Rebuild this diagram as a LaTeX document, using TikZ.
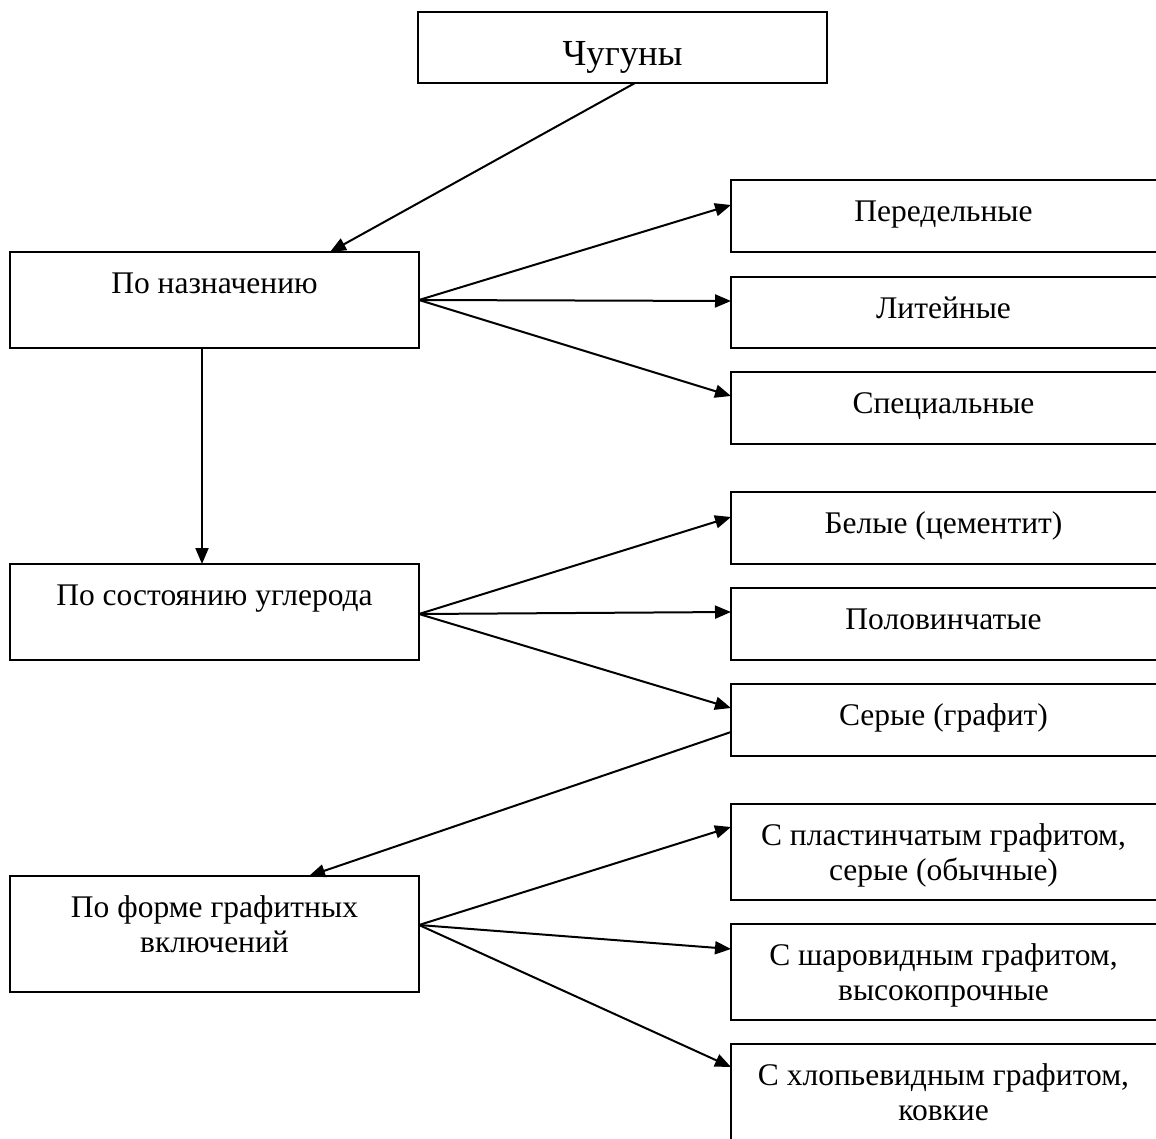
\documentclass[tikz,border=0pt]{standalone}
\usepackage{fontspec}
\setmainfont{Liberation Serif}
\usetikzlibrary{arrows.meta,calc}
\begin{document}
\begin{tikzpicture}[x=0.5pt,y=-0.5pt,
  box/.style 2 args={draw, line width=1pt, inner sep=0pt, outer sep=0pt,
    minimum width=#1*0.5pt, minimum height=#2*0.5pt},
  lbl/.style={anchor=north, inner sep=0pt, align=center,
    font=\fontsize{15.75}{17.5}\selectfont},
  biglbl/.style={anchor=north, inner sep=0pt, align=center,
    font=\fontsize{18.35}{21}\selectfont},
  arr/.style={-{Triangle[length=8pt,width=6.5pt]}, line width=1pt}]
\clip (0,0) rectangle (1156,1139);
\fill[white] (0,0) rectangle (1156,1139);
% boxes
\node[box={409}{71}]  (top) at (622.5,47.5) {};
\node[box={409}{96}]  (L1) at (214.5,300) {};
\node[box={409}{96}]  (L2) at (214.5,612) {};
\node[box={409}{116}] (L3) at (214.5,934) {};
\node[box={429}{72}]  (R1) at (945.5,216) {};
\node[box={429}{71}]  (R2) at (945.5,312.5) {};
\node[box={429}{72}]  (R3) at (945.5,408) {};
\node[box={429}{72}]  (R4) at (945.5,528) {};
\node[box={429}{72}]  (R5) at (945.5,624) {};
\node[box={429}{72}]  (R6) at (945.5,720) {};
\node[box={429}{96}]  (R7) at (945.5,852) {};
\node[box={429}{96}]  (R8) at (945.5,972) {};
\node[box={429}{120}] (R9) at (945.5,1104) {};
% texts
\node[biglbl] (topt) at ($(top.north west)+(204.5,25)$) {\rule{0pt}{14pt}Чугуны};
\node[lbl] (L1t) at ($(L1.north west)+(204.5,13)$) {\rule{0pt}{14pt}По назначению};
\node[lbl] (L2t) at ($(L2.north west)+(204.5,13)$) {\rule{0pt}{14pt}По состоянию углерода};
\node[lbl] (L3t) at ($(L3.north west)+(204.5,13)$) {\rule{0pt}{14pt}По форме графитных\\включений};
\node[lbl] (R1t) at ($(R1.north west)+(212.5,13)$) {\rule{0pt}{14pt}Передельные};
\node[lbl] (R2t) at ($(R2.north west)+(212.5,13)$) {\rule{0pt}{14pt}Литейные};
\node[lbl] (R3t) at ($(R3.north west)+(212.5,13)$) {\rule{0pt}{14pt}Специальные};
\node[lbl] (R4t) at ($(R4.north west)+(212.5,13)$) {\rule{0pt}{14pt}Белые (цементит)};
\node[lbl] (R5t) at ($(R5.north west)+(212.5,13)$) {\rule{0pt}{14pt}Половинчатые};
\node[lbl] (R6t) at ($(R6.north west)+(212.5,13)$) {\rule{0pt}{14pt}Серые (графит)};
\node[lbl] (R7t) at ($(R7.north west)+(212.5,13)$) {\rule{0pt}{14pt}С пластинчатым графитом,\\серые (обычные)};
\node[lbl] (R8t) at ($(R8.north west)+(212.5,13)$) {\rule{0pt}{14pt}С шаровидным графитом,\\высокопрочные};
\node[lbl] (R9t) at ($(R9.north west)+(212.5,13)$) {\rule{0pt}{14pt}С хлопьевидным графитом,\\ковкие};
% connectors
\draw[arr] ([xshift=6.25pt]top.south) -- ([xshift=57.75pt]L1.north);
\draw[arr] (L1.east) -- ([yshift=-12.5pt]R1.north west);
\draw[arr] (L1.east) -- ([yshift=-12pt]R2.north west);
\draw[arr] (L1.east) -- ([yshift=-12pt]R3.north west);
\draw[arr] ([xshift=-6.25pt]L1.south) -- ([xshift=-6.25pt]L2.north);
\draw[arr] ([yshift=-1pt]L2.east) -- ([yshift=-12.5pt]R4.north west);
\draw[arr] ([yshift=-1pt]L2.east) -- ([yshift=-12pt]R5.north west);
\draw[arr] ([yshift=-1pt]L2.east) -- ([yshift=-12pt]R6.north west);
\draw[arr] ([yshift=-24pt]R6.north west) -- ([xshift=47.25pt]L3.north);
\draw[arr] ([yshift=4.5pt]L3.east) -- ([yshift=-11.5pt]R7.north west);
\draw[arr] ([yshift=4.5pt]L3.east) -- ([yshift=-12.5pt]R8.north west);
\draw[arr] ([yshift=4.5pt]L3.east) -- ([yshift=-11.5pt]R9.north west);
\end{tikzpicture}
\end{document}
